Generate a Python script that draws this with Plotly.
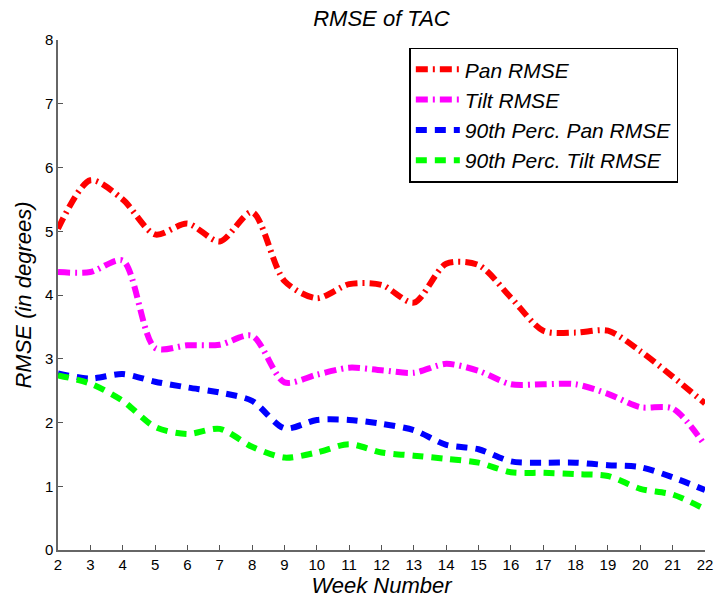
import plotly.graph_objects as go

weeks = list(range(2, 23))
pan_rmse = [5.04, 5.80, 5.50, 4.95, 5.12, 4.84, 5.30, 4.22, 3.95, 4.17, 4.16, 3.88, 4.49, 4.47, 3.96, 3.44, 3.41, 3.44, 3.12, 2.72, 2.30]
tilt_rmse = [4.36, 4.36, 4.54, 3.17, 3.21, 3.22, 3.36, 2.63, 2.75, 2.86, 2.82, 2.78, 2.92, 2.81, 2.60, 2.60, 2.60, 2.45, 2.24, 2.22, 1.64]
pan90 = [2.77, 2.69, 2.76, 2.64, 2.55, 2.47, 2.34, 1.91, 2.04, 2.04, 1.98, 1.88, 1.65, 1.58, 1.39, 1.37, 1.37, 1.33, 1.30, 1.14, 0.94]
tilt90 = [2.74, 2.61, 2.34, 1.93, 1.82, 1.90, 1.62, 1.45, 1.53, 1.66, 1.53, 1.48, 1.43, 1.37, 1.22, 1.21, 1.19, 1.16, 0.96, 0.87, 0.64]
series_names = ["Pan RMSE", "Tilt RMSE", "90th Perc. Pan RMSE", "90th Perc. Tilt RMSE"]
x_ticks = list(range(2, 23))
y_ticks = list(range(0, 9))

styles = [
    ("#ff0000", "12px,5px,2px,5px"),
    ("#ff00ff", "12px,5px,2px,5px"),
    ("#0000ff", "11px,8px"),
    ("#00ff00", "11px,8px"),
]

fig = go.Figure()
for name, vals, (col, dash) in zip(series_names, [pan_rmse, tilt_rmse, pan90, tilt90], styles):
    fig.add_trace(go.Scatter(
        x=weeks, y=vals, mode="lines", name="<i>" + name + "</i>",
        line=dict(color=col, width=6, dash=dash, shape="spline", smoothing=0.8),
    ))

font_family = "Liberation Sans, Arial, sans-serif"
fig.update_layout(
    width=715, height=603,
    margin=dict(l=58, r=10, t=40, b=53, autoexpand=False),
    paper_bgcolor="white", plot_bgcolor="white",
    font=dict(family=font_family, color="black", size=15),
    title=dict(text="<i>RMSE of TAC</i>", x=0.5, xref="paper", xanchor="center",
               y=0.969, yanchor="middle",
               font=dict(size=22, family=font_family)),
    showlegend=True,
    legend=dict(x=0.543, y=0.985, xanchor="left", yanchor="top",
                bgcolor="white", bordercolor="black", borderwidth=1.5,
                font=dict(size=21, family=font_family), itemwidth=44,
                tracegroupgap=0),
    xaxis=dict(range=[2, 22], tickvals=x_ticks, ticks="inside", ticklen=5,
               tickcolor="#555555", showline=True, linecolor="#666666", linewidth=1.5,
               showgrid=False, zeroline=False, automargin=False,
               tickfont=dict(size=15),
               title=dict(text="<i>Week Number</i>", font=dict(size=22), standoff=3)),
    yaxis=dict(range=[0, 8], tickvals=y_ticks, ticks="inside", ticklen=5,
               tickcolor="#555555", showline=True, linecolor="#666666", linewidth=1.5,
               showgrid=False, zeroline=False, automargin=False,
               tickfont=dict(size=15),
               title=dict(text="<i>RMSE (in degrees)</i>", font=dict(size=22), standoff=7)),
)

fig.write_html("out.html")
